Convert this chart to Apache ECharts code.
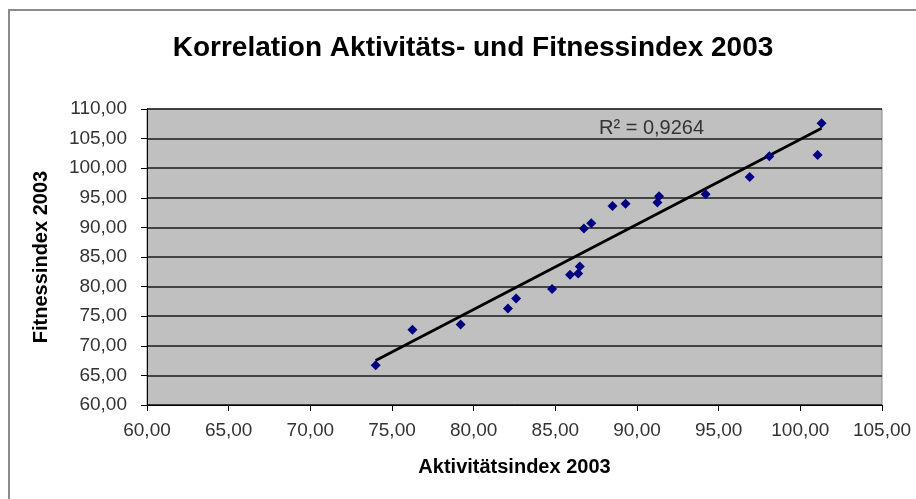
<!DOCTYPE html>
<html>
<head>
<meta charset="utf-8">
<script src="https://cdn.jsdelivr.net/npm/echarts@6/dist/echarts.min.js"></script>
<style>
  html, body { margin: 0; padding: 0; background: #fff; }
  #main { width: 916px; height: 499px; }
</style>
</head>
<body>
<div id="main"></div>
<script>
// Werte
var aktivitaet = [74.0, 76.25, 79.2, 82.1, 82.6, 84.8, 85.9, 86.4, 86.5, 86.75,
    87.2, 88.5, 89.3, 91.25, 91.35, 94.2, 96.9, 98.1, 101.06, 101.3];
var fitness = [66.7, 72.7, 73.6, 76.3, 78.0, 79.6, 82.0, 82.2, 83.4, 89.8,
    90.7, 93.6, 94.0, 94.2, 95.25, 95.6, 98.5, 102.0, 102.25, 107.6];
var rQuadrat = '0,9264';

var punkte = aktivitaet.map(function (x, i) { return [x, fitness[i]]; });

// lineare Trendlinie (kleinste Quadrate)
var n = punkte.length, sx = 0, sy = 0, sxx = 0, sxy = 0;
punkte.forEach(function (p) {
    sx += p[0]; sy += p[1]; sxx += p[0] * p[0]; sxy += p[0] * p[1];
});
var steigung = (n * sxy - sx * sy) / (n * sxx - sx * sx);
var achse = (sy - steigung * sx) / n;
var xMin = Math.min.apply(null, aktivitaet), xMax = Math.max.apply(null, aktivitaet);
var trend = [[xMin, achse + steigung * xMin], [xMax, achse + steigung * xMax]];

var fmt = function (v) { return v.toFixed(2).replace('.', ','); };
var schrift = '"Liberation Sans", Arial, sans-serif';

var chart = echarts.init(document.getElementById('main'));
chart.setOption({
    animation: false,
    textStyle: { fontFamily: schrift },
    title: {
        text: 'Korrelation Aktivitäts- und Fitnessindex 2003',
        left: 468,
        textAlign: 'center',
        top: 29,
        textStyle: { fontSize: 28, fontWeight: 'bold', color: '#000', fontFamily: schrift }
    },
    graphic: [
        {
            type: 'rect',
            shape: { x: 9, y: 10, width: 1000, height: 600 },
            style: { fill: 'none', stroke: '#8c8c8c', lineWidth: 2 },
            silent: true
        },
        {
            type: 'text',
            left: 599,
            top: 118,
            style: {
                text: 'R² = ' + rQuadrat,
                fontSize: 20,
                fill: '#333',
                fontFamily: schrift
            }
        }
    ],
    grid: {
        left: 147, right: 34, top: 109, bottom: 94,
        show: true, backgroundColor: '#c0c0c0', borderColor: '#8a8a8a', borderWidth: 1
    },
    xAxis: {
        type: 'value', min: 60, max: 105, interval: 5,
        name: 'Aktivitätsindex 2003',
        nameLocation: 'middle', nameGap: 52,
        nameTextStyle: { fontSize: 20, fontWeight: 'bold', color: '#000' },
        axisLine: { show: true, onZero: false, lineStyle: { color: '#000', width: 1 } },
        axisTick: { show: true, length: 6, lineStyle: { color: '#000' } },
        axisLabel: { fontSize: 19, color: '#333', margin: 16, formatter: fmt },
        splitLine: { show: false }
    },
    yAxis: {
        type: 'value', min: 60, max: 110, interval: 5,
        name: 'Fitnessindex 2003',
        nameLocation: 'middle', nameGap: 96,
        nameTextStyle: { fontSize: 20, fontWeight: 'bold', color: '#000' },
        axisLine: { show: true, onZero: false, lineStyle: { color: '#000', width: 1 } },
        axisTick: { show: true, length: 6, lineStyle: { color: '#000' } },
        axisLabel: { fontSize: 19, color: '#333', margin: 20, formatter: fmt },
        splitLine: { show: true, lineStyle: { color: '#1a1a1a', width: 1.5 } }
    },
    series: [
        {
            type: 'line',
            data: trend,
            showSymbol: false,
            lineStyle: { color: '#000', width: 2.8 },
            silent: true,
            z: 2
        },
        {
            type: 'scatter',
            data: punkte,
            symbol: 'diamond',
            symbolSize: 10,
            itemStyle: { color: '#000080', opacity: 1 },
            z: 3
        }
    ]
});
</script>
</body>
</html>
